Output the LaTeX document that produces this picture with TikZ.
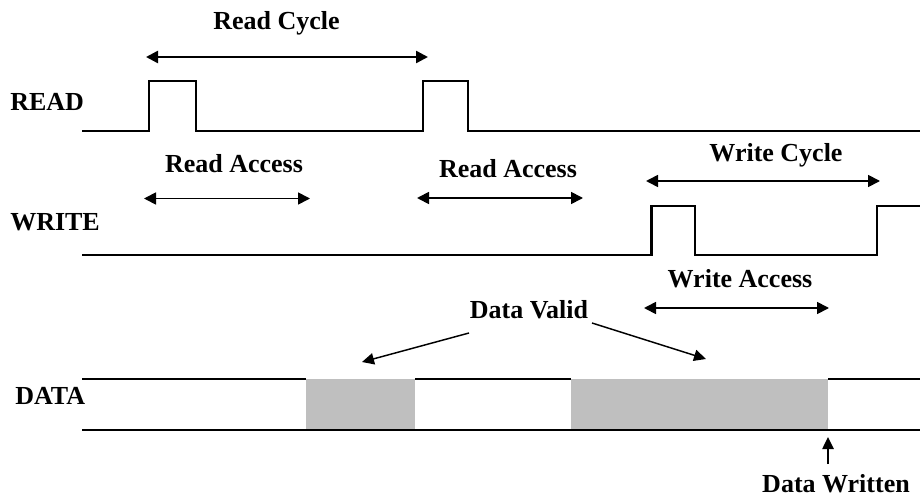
\documentclass[tikz,border=0pt]{standalone}
\usepackage{fontspec}
\setmainfont{Liberation Serif}
\usetikzlibrary{arrows.meta}
\begin{document}
\begin{tikzpicture}[x=0.75pt,y=-0.75pt,
  lbl/.style={font=\bfseries\fontsize{19.5}{22}\selectfont, inner sep=0pt},
  wave/.style={line width=1.5pt, line join=miter},
  wwave/.style={line width=2.2pt, line join=miter},
  span/.style={line width=1.3pt, {Triangle[length=9pt,width=9pt]}-{Triangle[length=9pt,width=9pt]}},
  thickspan/.style={span, line width=1.9pt},
  pointer/.style={line width=1.1pt, -{Triangle[length=9pt,width=8.5pt]}},
  valid/.style={fill={rgb,255:red,191;green,191;blue,191}, draw=none}]
\useasboundingbox (0,0) rectangle (920,499);

% signal names
\node[lbl, anchor=west] (readlbl)  at (10,102) {READ};
\node[lbl, anchor=west] (writelbl) at (10,222.5) {WRITE};
\node[lbl, anchor=west] (datalbl)  at (15,396) {DATA};

% READ waveform
\draw[wave] (82,130.7) -- (149,130.7) -- (149,80.7) -- (195.7,80.7) -- (195.7,130.7)
  -- (423,130.7) -- (423,80.7) -- (468,80.7) -- (468,130.7) -- (920,130.7);

% WRITE waveform
\draw[wwave] (82,255) -- (651.7,255) -- (651.7,206) -- (695,206) -- (695,255)
  -- (877,255) -- (877,206) -- (920,206);

% DATA bus with valid windows
\fill[valid] (306,379) rectangle (415,430);
\fill[valid] (571,379) rectangle (828,430);
\draw[wave] (82,379) -- (306,379) (415,379) -- (571,379) (828,379) -- (920,379);
\draw[wave] (82,430) -- (920,430);

% timing spans
\node[lbl] (rcycle) at (276.5,23) {Read Cycle};
\coordinate (rc1) at (146,57);
\coordinate (rc2) at (428,57);
\draw[thickspan] (rc1) -- (rc2);

\node[lbl] (racc1) at (234,164) {Read Access};
\coordinate (ra1a) at (144,198.5);
\coordinate (ra1b) at (310,198.5);
\draw[span] (ra1a) -- (ra1b);

\node[lbl] (racc2) at (508,169) {Read Access};
\coordinate (ra2a) at (417,198);
\coordinate (ra2b) at (583,198);
\draw[span] (ra2a) -- (ra2b);

\node[lbl] (wcycle) at (776,155.5) {Write Cycle};
\coordinate (wc1) at (646,181);
\coordinate (wc2) at (880,181);
\draw[span] (wc1) -- (wc2);

\node[lbl] (wacc) at (740,278.5) {Write Access};
\coordinate (wa1) at (644,308);
\coordinate (wa2) at (829,308);
\draw[span] (wa1) -- (wa2);

% data valid callouts
\node[lbl] (dvalid) at (529,310) {Data Valid};
\coordinate (dv1) at (362,362);
\coordinate (dv2) at (706,359);
\draw[pointer] (469,333) -- (dv1);
\draw[pointer] (592,323) -- (dv2);

% data written marker
\node[lbl] (dwritten) at (836,484) {Data Written};
\coordinate (dwtip) at (828,437);
\draw[pointer] (828,464) -- (dwtip);
\end{tikzpicture}
\end{document}
